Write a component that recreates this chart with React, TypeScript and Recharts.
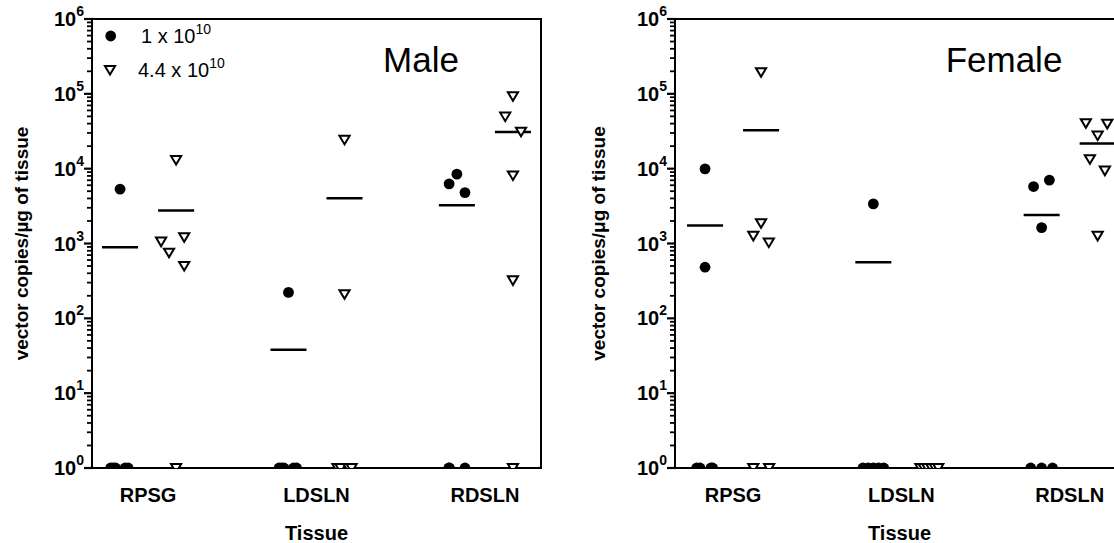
import { ScatterChart, Scatter, XAxis, YAxis, ReferenceLine, ReferenceArea } from 'recharts';

// categories along the x axis
const tissues = ['RPSG', 'LDSLN', 'RDSLN'];
const legendLabels = ['1 x 10', '4.4 x 10'];
const legendExp = '10';

// values of 1 sit on the axis (below detection)
// male, 1 x 10^10 (dots)
const maleLow = [
  [5320, 1, 1, 1, 1, 1],
  [222, 1, 1, 1, 1, 1],
  [8440, 6270, 4790, 1, 1, 1],
];
const maleLowJitter = [
  [0, -0.056, -0.042, -0.027, 0.03, 0.048],
  [0, -0.056, -0.042, -0.027, 0.03, 0.048],
  [0, -0.046, 0.048, -0.048, 0.048, -0.044],
];
const maleLowMean = [893, 38, 3250];

// male, 4.4 x 10^10 (triangles)
const maleHigh = [
  [13100, 1060, 755, 1215, 502, 1],
  [24300, 210, 1, 1, 1, 1],
  [93000, 49700, 31200, 8130, 322, 1],
];
const maleHighJitter = [
  [0, -0.089, -0.042, 0.048, 0.048, 0],
  [0, 0, -0.042, -0.024, 0.024, 0.042],
  [0, -0.046, 0.048, 0, 0, 0],
];
const maleHighMean = [2750, 4030, 30800];

// female, 1 x 10^10
const femaleLow = [
  [9940, 482, 1, 1, 1, 1],
  [3380, 1, 1, 1, 1, 1],
  [5770, 7020, 1630, 1, 1, 1],
];
const femaleLowJitter = [
  [0, 0, -0.05, -0.03, 0.035, 0.045],
  [0, -0.062, -0.031, 0, 0.031, 0.062],
  [-0.048, 0.046, 0, -0.065, 0, 0.065],
];
const femaleLowMean = [1735, 563, 2410];

// female, 4.4 x 10^10
const femaleHigh = [
  [195000, 1870, 1265, 1030, 1, 1],
  [1, 1, 1, 1, 1, 1],
  [40600, 39700, 27700, 13400, 9430, 1265],
];
const femaleHighJitter = [
  [0, 0, -0.046, 0.046, -0.046, 0.048],
  [-0.053, -0.033, -0.012, 0.012, 0.033, 0.053],
  [-0.07, 0.057, 0, -0.046, 0.043, 0],
];
const femaleHighMean: (number | null)[] = [32700, null, 21700];

const DOSE_SHIFT = 0.1664;
const MEAN_HALF = 0.107;
const FONT = '"Liberation Sans", Arial, sans-serif';

const yTicks: number[] = [];
for (let e = 0; e < 6; e++) for (let m = 1; m < 10; m++) yTicks.push(m * Math.pow(10, e));
yTicks.push(1e6);

function toPoints(vals: number[][], jit: number[][], side: number) {
  return vals.flatMap((arr, i) => arr.map((v, j) => ({ x: i + 1 + side + jit[i][j], y: v })));
}

function Dot(props: any) {
  const { cx, cy } = props;
  if (cx == null || cy == null) return null;
  return <circle cx={cx} cy={cy} r={5.4} fill="#000" />;
}

function DownTri(props: any) {
  const { cx, cy } = props;
  if (cx == null || cy == null) return null;
  return (
    <polygon
      points={`${cx - 5.1},${cy - 4} ${cx + 5.1},${cy - 4} ${cx},${cy + 4.6}`}
      fill="#fff"
      stroke="#000"
      strokeWidth={2}
    />
  );
}

// log axis: long ticks + "10^n" at decades, short ticks in between
function LogTick(props: any) {
  const { x, y, payload } = props;
  const v = payload.value;
  const exp = Math.round(Math.log10(v));
  const major = Math.abs(v - Math.pow(10, exp)) < 1e-6 * v;
  return (
    <g>
      <line x1={x + 1} x2={x - (major ? 8 : 5)} y1={y} y2={y} stroke="#000" strokeWidth={major ? 2.2 : 1.8} />
      {major && (
        <text x={x - 8} y={y + 7} textAnchor="end" fontFamily={FONT} fontWeight="bold" fontSize={20} fill="#000">
          10
          <tspan dy={-10} fontSize={14}>
            {exp}
          </tspan>
        </text>
      )}
    </g>
  );
}

type PanelProps = {
  left: number;
  title: string;
  yLabel: string;
  yLabelX: number;
  domain: [number, number];
  low: number[][];
  lowJitter: number[][];
  lowMean: (number | null)[];
  high: number[][];
  highJitter: number[][];
  highMean: (number | null)[];
  legend?: boolean;
};

function Panel(p: PanelProps) {
  const lowPts = toPoints(p.low, p.lowJitter, -DOSE_SHIFT);
  const highPts = toPoints(p.high, p.highJitter, DOSE_SHIFT);
  const means = [
    ...p.lowMean.map((m, i) => ({ m, c: i + 1 - DOSE_SHIFT })),
    ...p.highMean.map((m, i) => ({ m, c: i + 1 + DOSE_SHIFT })),
  ].filter((d) => d.m != null) as { m: number; c: number }[];

  return (
    <div style={{ position: 'absolute', left: p.left, top: 0, width: 560, height: 543 }}>
      <ScatterChart width={560} height={543} margin={{ top: 19, right: 19, bottom: 0, left: 0 }}>
        <XAxis
          type="number"
          dataKey="x"
          domain={p.domain}
          ticks={[1, 2, 3]}
          interval={0}
          allowDataOverflow
          tickFormatter={(v: number) => tissues[v - 1]}
          tickLine={false}
          tickSize={0}
          tickMargin={20}
          height={75}
          axisLine={{ stroke: '#000', strokeWidth: 2 }}
          tick={{ fontSize: 20, fontWeight: 'bold', fill: '#000', fontFamily: FONT }}
          label={{
            value: 'Tissue',
            position: 'insideBottom',
            offset: 3,
            style: { fontSize: 20, fontWeight: 'bold', fill: '#000', fontFamily: FONT },
          }}
        />
        <YAxis
          type="number"
          dataKey="y"
          scale="log"
          domain={[1, 1e6]}
          allowDataOverflow
          ticks={yTicks}
          interval={0}
          width={92}
          tickLine={false}
          tickSize={0}
          tickMargin={0}
          axisLine={{ stroke: '#000', strokeWidth: 2 }}
          tick={(t: any) => <LogTick {...t} />}
          label={{
            value: p.yLabel,
            content: (lp: any) => {
              const vb = lp.viewBox;
              const cx = vb.x + p.yLabelX;
              const cy = vb.y + vb.height / 2;
              return (
                <text
                  x={cx}
                  y={cy}
                  transform={`rotate(-90, ${cx}, ${cy})`}
                  textAnchor="middle"
                  dominantBaseline="central"
                  fontFamily={FONT}
                  fontWeight="bold"
                  fontSize={19}
                  fill="#000"
                >
                  {p.yLabel}
                </text>
              );
            },
          }}
        />
        <ReferenceArea
          x1={p.domain[0]}
          x2={p.domain[1]}
          y1={1}
          y2={1e6}
          fill="none"
          stroke="#000"
          strokeWidth={2}
          ifOverflow="visible"
        />
        {means.map((d, i) => (
          <ReferenceLine
            key={i}
            segment={[
              { x: d.c - MEAN_HALF, y: d.m },
              { x: d.c + MEAN_HALF, y: d.m },
            ]}
            stroke="#000"
            strokeWidth={2.5}
          />
        ))}
        <Scatter data={lowPts} shape={<Dot />} isAnimationActive={false} />
        <Scatter data={highPts} shape={<DownTri />} isAnimationActive={false} />
      </ScatterChart>
      <svg width={560} height={543} style={{ position: 'absolute', left: 0, top: 0, pointerEvents: 'none' }}>
        <text x={421} y={72} textAnchor="middle" fontFamily={FONT} fontSize={35} fill="#000">
          {p.title}
        </text>
        {p.legend && (
          <g fontFamily={FONT} fontSize={20} fill="#000">
            <Dot cx={110.7} cy={36} />
            <text x={141} y={43}>
              {legendLabels[0]}
              <tspan dy={-9} fontSize={14}>
                {legendExp}
              </tspan>
            </text>
            <DownTri cx={110} cy={70} />
            <text x={138} y={77}>
              {legendLabels[1]}
              <tspan dy={-9} fontSize={14}>
                {legendExp}
              </tspan>
            </text>
          </g>
        )}
      </svg>
    </div>
  );
}

export default function App() {
  return (
    <div
      style={{
        position: 'absolute',
        left: 0,
        top: 0,
        width: 1114,
        height: 543,
        overflow: 'hidden',
        background: '#fff',
      }}
    >
      <Panel
        left={0}
        title="Male"
        yLabel="vector copies/µg of tissue"
        yLabelX={21}
        domain={[0.667, 3.333]}
        low={maleLow}
        lowJitter={maleLowJitter}
        lowMean={maleLowMean}
        high={maleHigh}
        highJitter={maleHighJitter}
        highMean={maleHighMean}
        legend
      />
      <Panel
        left={583}
        title="Female"
        yLabel="vector copies/μg of tissue"
        yLabelX={15}
        domain={[0.655, 3.323]}
        low={femaleLow}
        lowJitter={femaleLowJitter}
        lowMean={femaleLowMean}
        high={femaleHigh}
        highJitter={femaleHighJitter}
        highMean={femaleHighMean}
      />
    </div>
  );
}
